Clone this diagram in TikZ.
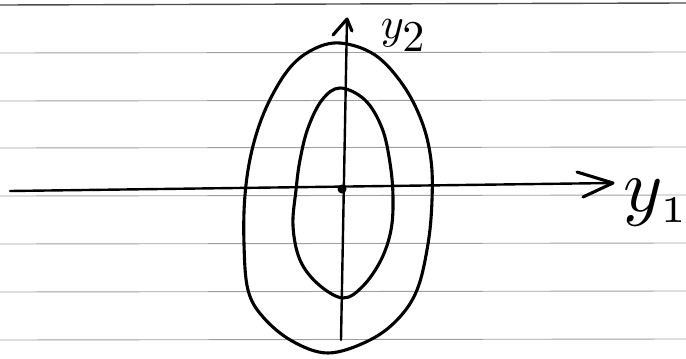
\documentclass[tikz,border=0pt]{standalone}
\begin{document}
\begin{tikzpicture}[x=1pt,y=-1pt,
  paperline/.style={draw=gray!75,line width=0.9pt},
  ink/.style={draw=black,line width=3.1pt,line cap=round,line join=round},
  axisline/.style={draw=black,line width=2.4pt,line cap=round},
  lbl/.style={inner sep=0pt,text=black}]
\useasboundingbox (0,0) rectangle (686,359);
% lined paper
\draw[draw=gray!60!black,line width=1.4pt] (0,5) -- (686,3);
\foreach \yy in {53,101,148,196,244,292,340}
  \draw[paperline] (0,\yy) -- (686,\yy-1);
% coordinates of the axes
\coordinate (hstart) at (10,191);
\coordinate (htip) at (613,183);
\coordinate (vstart) at (341,340);
\coordinate (vtip) at (347,19);
\coordinate (origin) at (342,189);
% axes
\draw[axisline] (hstart) -- (htip);
\draw[axisline] (vstart) -- (vtip);
% hand drawn arrow heads
\draw[ink] (577,172) -- (htip) -- (583,197);
\draw[ink] (333,35) -- (vtip) -- (352,31);
% origin dot
\fill (origin) circle (4.5);
% outer curve
\draw[ink] plot[smooth cycle,tension=0.6] coordinates {
 (340,43) (375,55) (403,85) (422,122) (431,160) (432,200) (428,244) (417,290)
 (397,320) (368,341) (328,353) (292,341) (263,317) (248,290) (244,244)
 (245,195) (252,150) (266,108) (288,70) (312,50)};
% inner curve
\draw[ink] plot[smooth cycle,tension=0.6] coordinates {
 (340,88) (365,100) (382,128) (390,163) (393,197) (391,230) (381,260)
 (363,286) (343,298) (318,284) (300,260) (293,226) (296,190) (300,160)
 (308,128) (322,100)};
% labels
\node[lbl,anchor=base west,scale=4.4] (ytwo) at (380,38) {$y_{\textstyle 2}$};
\node[lbl,anchor=base west,scale=7.5] (yone) at (622,211) {$y_{\scriptscriptstyle 1}$};
\end{tikzpicture}
\end{document}
